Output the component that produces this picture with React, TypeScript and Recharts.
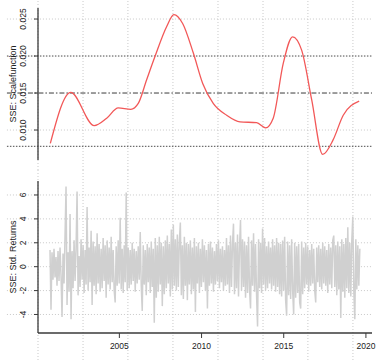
import React from 'react'
import { LineChart, Line, XAxis, YAxis, ReferenceLine, Label } from 'recharts'

// top panel: scale function
const scaleYears = [2000.80, 2002.04, 2003.47, 2004.23, 2004.93, 2005.70, 2006.15, 2006.66, 2007.16, 2007.88, 2008.32, 2008.85, 2009.50, 2010.07, 2010.71, 2011.53, 2012.34, 2013.35, 2013.90, 2014.36, 2014.97, 2015.54, 2016.09, 2016.70, 2017.37, 2018.01, 2018.62, 2019.59]
const scaleValues = [0.0082, 0.0151, 0.0106, 0.0116, 0.0130, 0.0128, 0.0136, 0.0168, 0.0199, 0.0240, 0.0256, 0.0244, 0.0204, 0.0163, 0.0136, 0.0120, 0.0111, 0.0110, 0.0103, 0.0116, 0.0190, 0.0226, 0.0208, 0.0141, 0.0067, 0.0087, 0.0120, 0.0139]
const scaleTicks = [0.010, 0.015, 0.020, 0.025]
const scaleGuides = [0.020, 0.0078]
const scaleMid = 0.015

// bottom panel: standardized returns (envelope)
const returnValues = [
  1.4, -3.6, 1.2, -1.1, 1.5, -0.9, 0.8, -1.6, 1.3, -1.2,
  1.6, -0.8, -4.2, 1.1, -1.4, 2.6, 6.7, -3.2, 1.2, -2.1,
  4.4, -4.4, 1.3, -1.8, 2.2, -1.2, 1.5, 6.3, -2.4, 0.9,
  -1.7, 2.3, -1.1, 1.8, -2.2, 1.4, -1.5, 5.0, -2.0, 1.6,
  -1.3, 3.0, -3.2, 2.1, -1.6, 1.7, -2.3, 2.8, -1.4, 1.9,
  -2.1, 1.5, -1.8, 2.4, -1.2, 1.8, -2.6, 2.2, -1.5, 1.6,
  -1.9, 2.5, -1.3, 1.4, -2.0, -3.0, 1.7, -1.6, 2.2, -1.4,
  4.1, -1.9, 1.5, -2.2, 1.8, -1.3, 6.2, -2.0, 1.6, -1.8,
  1.4, -1.5, 2.0, -1.2, 1.5, -2.1, 1.3, -1.4, 1.7, -1.1,
  2.9, -1.6, -3.7, 1.8, -1.5, 1.4, -2.4, 1.9, -1.3, 1.6,
  -2.2, 2.1, -1.7, 1.5, -4.7, 2.4, -2.6, 1.8, -2.1, 2.5,
  -1.5, 2.0, -3.3, 1.7, -2.3, 2.2, -1.8, 2.6, -1.4, 1.9,
  -2.5, 3.1, -1.9, 3.5, -1.6, 2.3, -2.0, 2.7, -1.7, 2.1,
  3.7, -2.4, 1.8, -2.7, 2.5, -1.6, 2.0, -2.8, 1.9, -1.5,
  2.2, -2.3, 1.6, -1.9, 2.4, -3.8, 1.7, -1.4, 2.0, -2.2,
  1.5, -1.7, 2.3, -1.3, 1.8, -2.0, 1.4, -3.5, 1.9, -1.6,
  2.1, -1.4, 1.6, -2.1, 1.3, -1.5, 1.9, -1.2, 2.2, -1.8,
  1.5, -1.3, 1.7, -2.0, 1.4, -1.6, 2.4, -1.5, 1.8, -2.2,
  2.6, -1.7, 1.9, 3.6, -2.3, 2.0, -1.8, 2.7, -2.5, 1.6,
  3.9, -2.0, 2.3, -1.7, 2.1, -2.6, 1.8, -2.2, 2.5, -1.9,
  -3.5, 2.2, -1.6, 2.8, -2.1, 1.9, -2.4, -5.0, 2.3, -1.8,
  2.0, -2.2, 3.2, -1.5, 2.4, -2.0, 1.7, -1.8, 2.1, -1.4,
  1.6, -1.9, 2.3, -1.6, 1.8, -2.1, 2.4, -1.7, 2.0, -2.3,
  1.9, -2.5, 2.2, -2.0, 2.5, -2.8, -4.1, 2.1, -2.4, 1.8,
  -2.7, 2.3, -2.0, -4.0, 2.0, -2.6, 1.7, -2.2, 1.9, -3.0,
  -3.5, 2.1, -2.3, 1.6, -1.8, 2.0, -1.5, 1.7, -2.1, 1.4,
  -1.6, 1.9, -1.4, 1.5, -2.0, -3.0, 1.6, -1.3, 1.8, -1.7,
  1.5, -1.9, 2.0, -1.4, 1.7, -1.6, 1.4, -2.2, 1.9, -1.5,
  1.6, -1.8, 2.2, 2.6, -1.7, 1.8, -2.4, 2.1, -1.9, 1.7,
  -4.3, 2.3, -2.1, 1.9, -2.6, 2.4, -1.8, 3.3, -2.2, 2.0,
  -2.5, 2.2, 4.2, -2.0, -4.4, 2.3, -1.9, 1.8, -1.6, 1.5,
]
const returnsStart = 2000.78
const returnsEnd = 2019.63
const returnTicks = [-4, -2, 0, 2, 4, 6]
const yearTicks = [2005, 2010, 2015, 2020]

// background grid
const gridYears = [2000.05, 2002.79, 2005.52, 2008.26, 2011.0, 2013.74, 2016.47, 2019.21]
const gridLeftYear = 1998.16
const xDomain = [2000.05, 2020.37]

const scaleData = scaleYears.map((year, i) => ({ year, value: scaleValues[i] }))
const step = (returnsEnd - returnsStart) / (returnValues.length - 1)
const returnData = returnValues.map((value, i) => ({ year: returnsStart + i * step, value }))

const FONT = '"Liberation Sans", Arial, sans-serif'
const AXIS = '#3a3a3a'
const GRID = '#c9c9c9'

const VTick = (props: any) => {
  const { x, y, payload, digits } = props
  const cx = x - 9
  return (
    <text x={cx} y={y} transform={`rotate(-90 ${cx} ${y})`} textAnchor="middle"
      dominantBaseline="central" fontSize={8.5} fill="#222" fontFamily={FONT}>
      {digits ? payload.value.toFixed(digits) : String(payload.value)}
    </text>
  )
}

const AxisTitle = (props: any) => {
  const { viewBox, text } = props
  if (!viewBox) return null
  const cx = viewBox.x + 13
  const cy = viewBox.y + viewBox.height / 2
  return (
    <text x={cx} y={cy} transform={`rotate(-90 ${cx} ${cy})`} textAnchor="middle"
      dominantBaseline="central" fontSize={9} fill="#222" fontFamily={FONT}>
      {text}
    </text>
  )
}

const vGrid = (lo: number, hi: number) =>
  gridYears.map((g) => (
    <ReferenceLine key={'v' + g} segment={[{ x: g, y: lo }, { x: g, y: hi }]}
      stroke={GRID} strokeDasharray="1 2" ifOverflow="visible" />
  ))

const hGrid = (vals: number[], stroke = GRID, dash = '1 2', key = 'h') =>
  vals.map((v) => (
    <ReferenceLine key={key + v} segment={[{ x: gridLeftYear, y: v }, { x: xDomain[1], y: v }]}
      stroke={stroke} strokeDasharray={dash} ifOverflow="visible" />
  ))

const App = () => {
  return (
    <div style={{ position: 'absolute', left: 0, top: 0, width: 386, height: 360, overflow: 'hidden', background: '#fff' }}>
      <LineChart width={386} height={170} data={scaleData}
        margin={{ top: 8, right: 14, bottom: 10, left: 0 }}>
        <XAxis dataKey="year" type="number" domain={xDomain} allowDataOverflow
          height={0} tick={false} tickLine={false}
          axisLine={{ stroke: AXIS, strokeWidth: 1.3 }} />
        <YAxis type="number" domain={[0.00595, 0.02649]} allowDataOverflow width={38}
          ticks={scaleTicks} tick={<VTick digits={3} />} tickSize={4}
          tickLine={{ stroke: AXIS }} axisLine={{ stroke: AXIS, strokeWidth: 1.3 }}>
          <Label content={(p: any) => <AxisTitle {...p} text="SSE: Scalefunction" />} />
        </YAxis>
        {vGrid(0.0046, 0.02757)}
        {hGrid([0.010, 0.025])}
        {hGrid(scaleGuides, '#4a4a4a', '1.5 1.5', 'g')}
        {hGrid([scaleMid], '#3a3a3a', '5 2 1.5 2', 'm')}
        <Line type="monotone" dataKey="value" stroke="#f25858" strokeWidth={1.3}
          dot={false} isAnimationActive={false} />
      </LineChart>
      <LineChart width={386} height={190} data={returnData}
        margin={{ top: 11, right: 14, bottom: 0, left: 0 }}>
        <XAxis dataKey="year" type="number" domain={xDomain} allowDataOverflow height={27}
          ticks={yearTicks} tickSize={5} tickMargin={5}
          tick={{ fontSize: 8.5, fill: '#222', fontFamily: FONT }}
          tickLine={{ stroke: AXIS }} axisLine={{ stroke: AXIS, strokeWidth: 1.3 }} />
        <YAxis type="number" domain={[-5.55, 7.17]} allowDataOverflow width={38}
          ticks={returnTicks} tick={<VTick digits={0} />} tickSize={4}
          tickLine={{ stroke: AXIS }} axisLine={{ stroke: AXIS, strokeWidth: 1.3 }}>
          <Label content={(p: any) => <AxisTitle {...p} text="SSE: Std. Returns" />} />
        </YAxis>
        {vGrid(-7.81, 8.09)}
        {hGrid(returnTicks)}
        <Line type="linear" dataKey="value" stroke="#d0d0d0" strokeWidth={1.5}
          dot={false} isAnimationActive={false} />
      </LineChart>
    </div>
  )
}

export default App
